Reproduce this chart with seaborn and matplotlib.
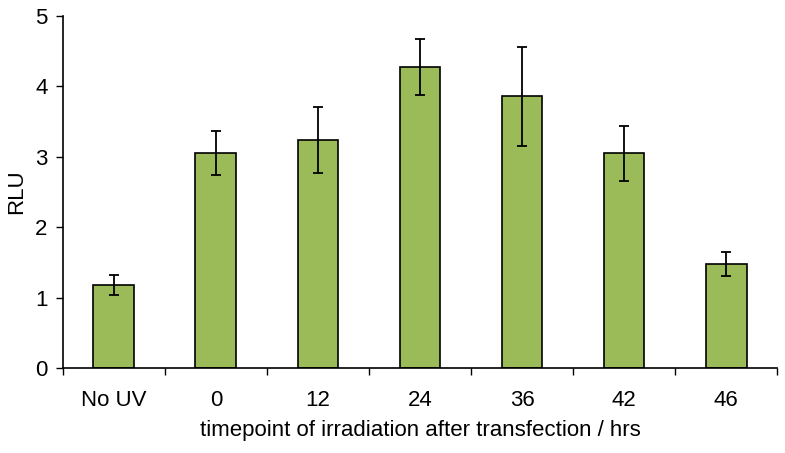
import numpy as np
import pandas as pd
import seaborn as sns
import matplotlib.pyplot as plt
from matplotlib.ticker import FixedLocator

# data
timepoints = ["No UV", "0", "12", "24", "36", "42", "46"]
rlu = [1.18, 3.05, 3.24, 4.28, 3.86, 3.05, 1.48]
rlu_err = [0.14, 0.31, 0.47, 0.40, 0.70, 0.39, 0.17]

df = pd.DataFrame({"timepoint": timepoints, "RLU": rlu})

sns.set_style("ticks")
plt.rcParams["font.family"] = ["Liberation Sans", "DejaVu Sans"]
plt.rcParams["text.color"] = "black"
plt.rcParams["axes.labelcolor"] = "black"
plt.rcParams["xtick.color"] = "black"
plt.rcParams["ytick.color"] = "black"

fig = plt.figure(figsize=(7.85, 4.53), dpi=100)
ax = fig.add_axes([0.080, 0.1876, 0.910, 0.7771])

sns.barplot(data=df, x="timepoint", y="RLU", color="#9BBB59", width=0.4,
            saturation=1, edgecolor="black", linewidth=1.2, errorbar=None, ax=ax)
ax.errorbar(np.arange(len(timepoints)), rlu, yerr=rlu_err, fmt="none",
            ecolor="black", elinewidth=1.3, capsize=3.6, capthick=1.3)

ax.set_xlim(-0.5, len(timepoints) - 0.5)
ax.set_ylim(0, 5)
ax.set_yticks([0, 1, 2, 3, 4, 5])
ax.xaxis.set_minor_locator(FixedLocator(np.arange(-0.5, len(timepoints), 1.0)))
ax.tick_params(axis="x", which="major", length=0, pad=16, labelsize=16)
ax.tick_params(axis="x", which="minor", length=5, width=1, direction="out")
ax.tick_params(axis="y", length=5, width=1, labelsize=16, pad=6)

ax.set_xlabel("timepoint of irradiation after transfection / hrs", fontsize=16, labelpad=6)
ax.set_ylabel("RLU", fontsize=16, labelpad=6)

sns.despine(ax=ax)
for s in ["left", "bottom"]:
    ax.spines[s].set_linewidth(1.2)
    ax.spines[s].set_color("black")

fig.savefig("out.png", dpi=100)
